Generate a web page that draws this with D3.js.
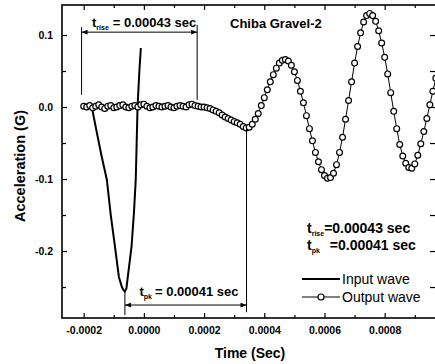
<!DOCTYPE html>
<html>
<head>
<meta charset="utf-8">
<script src="https://cdn.jsdelivr.net/npm/d3@7"></script>
<style>
  body { margin: 0; background: #fff; }
  #chart { width: 435px; height: 364px; overflow: hidden; }
  text { font-family: "Liberation Sans", Arial, sans-serif; fill: #000; }
</style>
</head>
<body>
<div id="chart"></div>
<script>
// Output wave samples (time in units of 1e-5 sec)
const outputTime = [
  -20, -19, -18, -17, -16, -15, -14, -13, -12, -11,
  -10, -9, -8, -7, -6, -5, -4, -3, -2, -1,
  0, 1, 2, 3, 4, 5, 6, 7, 8, 9,
  10, 11, 12, 13, 14, 15, 16, 17, 18, 19,
  20, 21, 22, 23, 24, 25, 26, 27, 28, 29,
  30, 31, 32, 33, 34, 35, 36, 37, 38, 39,
  40, 41, 42, 43, 44, 45, 46, 47, 48, 49,
  50, 51, 52, 53, 54, 55, 56, 57, 58, 59,
  60, 61, 62, 63, 64, 65, 66, 67, 68, 69,
  70, 71, 72, 73, 74, 75, 76, 77, 78, 79,
  80, 81, 82, 83, 84, 85, 86, 87, 88, 89,
  90, 91, 92, 93, 94, 95, 96, 97
];
const outputAccel = [
  0.001, 0.000, 0.002, -0.001, 0.001, 0.003, 0.000, -0.002, 0.001, 0.002,
  -0.001, 0.000, 0.002, 0.003, 0.000, -0.001, 0.001, 0.002, 0.000, 0.003,
  0.004, 0.001, -0.001, 0.000, 0.002, 0.001, 0.000, 0.001, 0.002, 0.000,
  -0.001, 0.001, 0.002, 0.001, 0.000, 0.003, 0.004, 0.002, 0.001, 0.000,
  0.000, -0.001, -0.002, -0.004, -0.006, -0.008, -0.011, -0.014, -0.016, -0.018,
  -0.020, -0.022, -0.024, -0.027, -0.029, -0.028, -0.024, -0.017, -0.009, 0.002,
  0.013, 0.024, 0.035, 0.045, 0.054, 0.061, 0.065, 0.066, 0.064, 0.058,
  0.049, 0.037, 0.022, 0.006, -0.012, -0.030, -0.047, -0.063, -0.076, -0.087,
  -0.095, -0.099, -0.098, -0.092, -0.080, -0.063, -0.042, -0.017, 0.009, 0.035,
  0.061, 0.084, 0.103, 0.118, 0.127, 0.130, 0.127, 0.119, 0.106, 0.089,
  0.069, 0.046, 0.020, -0.006, -0.030, -0.052, -0.068, -0.078, -0.084, -0.085,
  -0.079, -0.067, -0.051, -0.034, -0.016, 0.003, 0.022, 0.040
];

// Input wave (sec, G)
const inputTime = [
  -0.000173, -0.000156, -0.000140, -0.000123, -0.000110, -0.000096, -0.000083,
  -0.000073, -0.000068, -0.000063, -0.000058, -0.000052, -0.000041, -0.000033,
  -0.000027, -0.000021, -0.000015, -0.000010
];
const inputAccel = [
  0.000, -0.036, -0.069, -0.101, -0.150, -0.194, -0.236,
  -0.250, -0.254, -0.256, -0.252, -0.231, -0.194, -0.147,
  -0.101, 0.000, 0.050, 0.082
];

const xTicksMajor = [-0.0002, 0, 0.0002, 0.0004, 0.0006, 0.0008];
const xTickLabels = ['-0.0002', '0.0000', '0.0002', '0.0004', '0.0006', '0.0008'];
const xTicksMinor = [-0.0001, 0.0001, 0.0003, 0.0005, 0.0007, 0.0009];
const yTicksMajor = [0.1, 0.0, -0.1, -0.2];
const yTickLabels = ['0.1', '0.0', '-0.1', '-0.2'];
const yTicksMinor = [0.05, -0.05, -0.15, -0.25];

// Annotation spans
const riseStart = -0.000207, riseEnd = 0.000177;
const pkStart = -0.000063, pkEnd = 0.000341;

// Dimensions
const W = 435, H = 364;
const margin = {top: 5, right: -2, bottom: 46, left: 62};
const width = W - margin.left - margin.right;
const height = H - margin.top - margin.bottom;

const svg = d3.select('#chart').append('svg')
    .attr('width', W)
    .attr('height', H);

const g = svg.append('g')
    .attr('transform', `translate(${margin.left},${margin.top})`);

const x = d3.scaleLinear().domain([-0.000272, 0.0009738]).range([0, width]);
const y = d3.scaleLinear().domain([-0.293, 0.1417]).range([height, 0]);

// Arrow marker
const defs = svg.append('defs');
defs.append('marker')
    .attr('id', 'arrow')
    .attr('viewBox', '0 0 10 10')
    .attr('refX', 10).attr('refY', 5)
    .attr('markerWidth', 8).attr('markerHeight', 6)
    .attr('markerUnits', 'userSpaceOnUse')
    .attr('orient', 'auto-start-reverse')
    .append('path')
    .attr('d', 'M0,1 L10,5 L0,9 Z')
    .attr('fill', '#000');
defs.append('clipPath').attr('id', 'plot-clip')
    .append('rect').attr('width', width).attr('height', height);

// Axes: ticks point inward
function styleAxis(sel) {
    sel.select('.domain').remove();
    sel.selectAll('line').attr('stroke', '#000').attr('stroke-width', 1.2);
    sel.selectAll('text')
        .style('font-size', '10.5px')
        .style('font-weight', 'bold')
        .style('font-family', '"Liberation Sans", Arial, sans-serif');
}

g.append('g').attr('transform', `translate(0,${height})`)
    .call(d3.axisBottom(x).tickValues(xTicksMajor).tickSize(-5).tickPadding(9)
        .tickFormat((d, i) => xTickLabels[i]))
    .call(styleAxis);
g.append('g').attr('transform', `translate(0,${height})`)
    .call(d3.axisBottom(x).tickValues(xTicksMinor).tickSize(-3).tickFormat(''))
    .call(styleAxis);
g.append('g')
    .call(d3.axisTop(x).tickValues(xTicksMajor).tickSize(-5).tickFormat(''))
    .call(styleAxis);
g.append('g')
    .call(d3.axisTop(x).tickValues(xTicksMinor).tickSize(-3).tickFormat(''))
    .call(styleAxis);

g.append('g')
    .call(d3.axisLeft(y).tickValues(yTicksMajor).tickSize(-5).tickPadding(9)
        .tickFormat((d, i) => yTickLabels[i]))
    .call(styleAxis);
g.append('g')
    .call(d3.axisLeft(y).tickValues(yTicksMinor).tickSize(-4).tickFormat(''))
    .call(styleAxis);
g.append('g').attr('transform', `translate(${width},0)`)
    .call(d3.axisRight(y).tickValues(yTicksMajor.concat(yTicksMinor)).tickSize(-7).tickFormat(''))
    .call(styleAxis);

// Frame
g.append('rect')
    .attr('width', width)
    .attr('height', height)
    .attr('fill', 'none')
    .attr('stroke', '#000')
    .attr('stroke-width', 1.6);

// Axis titles
svg.append('text')
    .attr('x', 250).attr('y', 358)
    .attr('text-anchor', 'middle')
    .style('font-size', '14px').style('font-weight', 'bold')
    .text('Time (Sec)');
svg.append('text')
    .attr('transform', 'translate(25,166) rotate(-90)')
    .attr('text-anchor', 'middle')
    .style('font-size', '14.5px').style('font-weight', 'bold')
    .text('Acceleration (G)');

// Data layer
const plot = g.append('g').attr('clip-path', 'url(#plot-clip)');

const inputData = inputTime.map((t, i) => ({t, v: inputAccel[i]}));
const outputData = outputTime.map((t, i) => ({t: t * 1e-5, v: outputAccel[i]}));

const line = d3.line().x(d => x(d.t)).y(d => y(d.v));

plot.append('path')
    .datum(inputData)
    .attr('d', line)
    .attr('fill', 'none')
    .attr('stroke', '#000')
    .attr('stroke-width', 2);

plot.append('path')
    .datum(outputData)
    .attr('d', line)
    .attr('fill', 'none')
    .attr('stroke', '#000')
    .attr('stroke-width', 1);

plot.selectAll('.out-pt')
    .data(outputData)
    .enter()
    .append('circle')
    .attr('class', 'out-pt')
    .attr('cx', d => x(d.t))
    .attr('cy', d => y(d.v))
    .attr('r', 2.9)
    .attr('fill', '#fff')
    .attr('stroke', '#000')
    .attr('stroke-width', 1.2);

// t_rise annotation
const ann = g.append('g').attr('stroke', '#000').attr('stroke-width', 1);
ann.append('line')
    .attr('x1', x(riseStart)).attr('x2', x(riseStart))
    .attr('y1', y(0.111)).attr('y2', y(0.017));
ann.append('line')
    .attr('x1', x(riseEnd)).attr('x2', x(riseEnd))
    .attr('y1', y(0.114)).attr('y2', y(0.010));
ann.append('line')
    .attr('x1', x(riseStart)).attr('x2', x(riseEnd))
    .attr('y1', y(0.104)).attr('y2', y(0.104))
    .attr('marker-start', 'url(#arrow)')
    .attr('marker-end', 'url(#arrow)');

// t_pk annotation
ann.append('line')
    .attr('x1', x(pkStart)).attr('x2', x(pkStart))
    .attr('y1', y(-0.255)).attr('y2', y(-0.289));
ann.append('line')
    .attr('x1', x(pkEnd)).attr('x2', x(pkEnd))
    .attr('y1', y(-0.029)).attr('y2', y(-0.285));
ann.append('line')
    .attr('x1', x(pkStart)).attr('x2', x(pkEnd))
    .attr('y1', y(-0.275)).attr('y2', y(-0.275))
    .attr('marker-start', 'url(#arrow)')
    .attr('marker-end', 'url(#arrow)');

// Labels with subscripts
function subLabel(px, py, sub, rest, size, gap) {
    const t = svg.append('text')
        .attr('x', px).attr('y', py)
        .style('font-size', size + 'px').style('font-weight', 'bold');
    t.append('tspan').text('t');
    t.append('tspan').attr('dy', 3).style('font-size', '7px').text(sub);
    t.append('tspan').attr('dy', -3).attr('dx', gap).text(rest);
}
subLabel(92, 27, 'rise', '= 0.00043 sec', 13, 4);
subLabel(139.5, 296, 'pk', '= 0.00041 sec', 13, 3);
subLabel(307, 233, 'rise', '=0.00043 sec', 14, 0);
subLabel(307, 250, 'pk', '=0.00041 sec', 14, 10);

svg.append('text')
    .attr('x', 230).attr('y', 28)
    .style('font-size', '13px').style('font-weight', 'bold')
    .text('Chiba Gravel-2');

// Legend
const legend = svg.append('g');
legend.append('line')
    .attr('x1', 302).attr('x2', 340).attr('y1', 279).attr('y2', 279)
    .attr('stroke', '#000').attr('stroke-width', 2);
legend.append('text')
    .attr('x', 342).attr('y', 283.5)
    .style('font-size', '14px')
    .text('Input wave');
legend.append('line')
    .attr('x1', 302).attr('x2', 340).attr('y1', 297).attr('y2', 297)
    .attr('stroke', '#000').attr('stroke-width', 1);
legend.append('circle')
    .attr('cx', 321).attr('cy', 297).attr('r', 3)
    .attr('fill', '#fff').attr('stroke', '#000').attr('stroke-width', 1.2);
legend.append('text')
    .attr('x', 342).attr('y', 301.5)
    .style('font-size', '14px')
    .text('Output wave');
</script>
</body>
</html>
